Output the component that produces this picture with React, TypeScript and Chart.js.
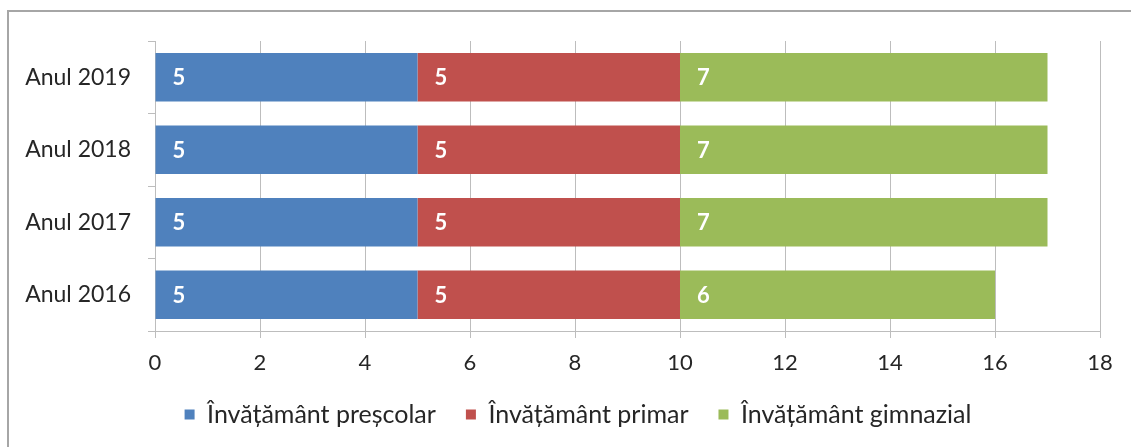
import React, { useEffect, useRef } from 'react';
import { Chart, registerables } from 'chart.js';

Chart.register(...registerables);

const categories = ['Anul 2019', 'Anul 2018', 'Anul 2017', 'Anul 2016'];
const prescolar = [5, 5, 5, 5];
const primar = [5, 5, 5, 5];
const gimnazial = [7, 7, 7, 6];
const seriesNames = ['Învățământ preșcolar', 'Învățământ primar', 'Învățământ gimnazial'];
const xTicks = [0, 2, 4, 6, 8, 10, 12, 14, 16, 18];

const FONT = 'Lato, "Open Sans", sans-serif';
const TEXT = '#262626';
const GRID = '#bdbdbd';

export default function App() {
  const ref = useRef<HTMLCanvasElement>(null);

  useEffect(() => {
    if (!ref.current) return;

    const framePlugin = {
      id: 'frame',
      afterLayout(chart: any) {
        const lg = chart.legend;
        if (lg) {
          lg.left += 28;
          lg.right += 28;
        }
      },
      beforeDraw(chart: any) {
        const ctx = chart.ctx;
        ctx.save();
        ctx.fillStyle = '#ffffff';
        ctx.fillRect(0, 0, chart.width, chart.height);
        ctx.strokeStyle = '#a6a6a6';
        ctx.lineWidth = 2;
        ctx.beginPath();
        ctx.moveTo(8, chart.height);
        ctx.lineTo(8, 11);
        ctx.lineTo(chart.width, 11);
        ctx.stroke();
        ctx.restore();
      },
    };

    const labelPlugin = {
      id: 'barLabels',
      afterDatasetsDraw(chart: any) {
        const ctx = chart.ctx;
        ctx.save();
        ctx.fillStyle = '#ffffff';
        ctx.font = `bold 22px ${FONT}`;
        ctx.textAlign = 'left';
        ctx.textBaseline = 'middle';
        chart.data.datasets.forEach((ds: any, di: number) => {
          const meta = chart.getDatasetMeta(di);
          meta.data.forEach((el: any, i: number) => {
            const left = Math.min(el.base, el.x);
            ctx.fillText(String(ds.data[i]), left + 17, el.y + 1);
          });
        });
        ctx.restore();
      },
    };

    const chart = new Chart(ref.current, {
      type: 'bar',
      data: {
        labels: categories,
        datasets: [
          { label: seriesNames[0], data: prescolar, backgroundColor: '#4f81bd' },
          { label: seriesNames[1], data: primar, backgroundColor: '#c0504d' },
          { label: seriesNames[2], data: gimnazial, backgroundColor: '#9bbb59' },
        ],
      },
      options: {
        indexAxis: 'y',
        responsive: false,
        animation: false,
        events: [],
        datasets: {
          bar: { categoryPercentage: 1, barPercentage: 0.667, borderWidth: 0 },
        },
        layout: { padding: { top: 41, right: 31, left: 0, bottom: 10 } },
        scales: {
          x: {
            type: 'linear',
            stacked: true,
            min: 0,
            max: 18,
            afterBuildTicks(scale: any) {
              scale.ticks = xTicks.map((v) => ({ value: v }));
            },
            afterFit(scale: any) {
              scale.height = 41;
            },
            ticks: { font: { family: FONT, size: 22 }, color: TEXT, padding: 12 },
            grid: { color: GRID, tickLength: 7, lineWidth: 1 },
            border: { color: GRID },
          },
          y: {
            stacked: true,
            afterFit(scale: any) {
              scale.width = 155;
            },
            ticks: { font: { family: FONT, size: 23 }, color: TEXT, padding: 17 },
            grid: { drawOnChartArea: false, tickLength: 7, color: GRID, offset: true },
            border: { color: GRID },
          },
        },
        plugins: {
          tooltip: { enabled: false },
          legend: {
            position: 'bottom',
            labels: {
              boxWidth: 10,
              boxHeight: 10,
              padding: 30,
              color: TEXT,
              font: { family: FONT, size: 25 },
            },
          },
        },
      },
      plugins: [framePlugin, labelPlugin],
    });

    return () => chart.destroy();
  }, []);

  return (
    <div style={{ position: 'fixed', left: 0, top: 0, width: 1131, height: 447, background: '#fff' }}>
      <canvas ref={ref} width={1131} height={447} style={{ display: 'block' }} />
    </div>
  );
}
